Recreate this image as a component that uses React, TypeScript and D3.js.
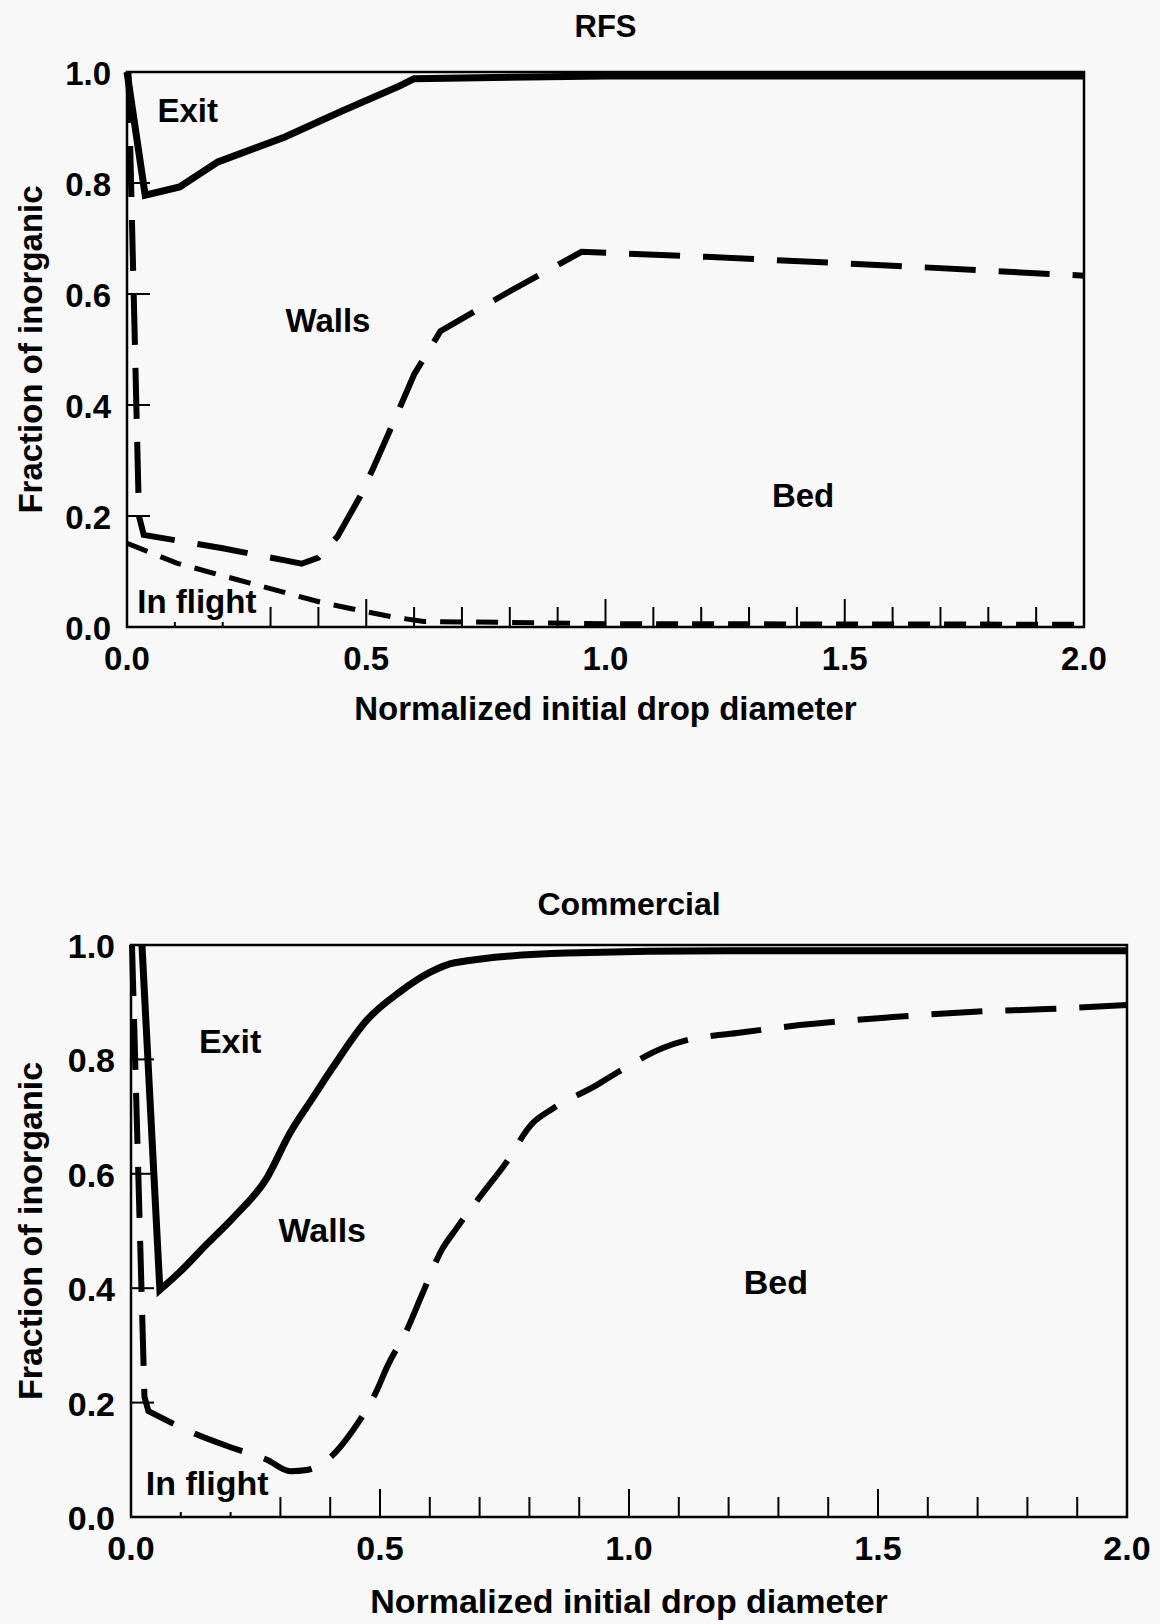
import React from 'react';
import * as d3 from 'd3';

// ---- data ----
const xTickLabels = ['0.0', '0.5', '1.0', '1.5', '2.0'];
const xTickValues = [0, 0.5, 1.0, 1.5, 2.0];
const yTickLabels = ['0.0', '0.2', '0.4', '0.6', '0.8', '1.0'];
const yTickValues = [0, 0.2, 0.4, 0.6, 0.8, 1.0];
const minorXTicks = [0.1, 0.2, 0.3, 0.4, 0.6, 0.7, 0.8, 0.9, 1.1, 1.2, 1.3, 1.4, 1.6, 1.7, 1.8, 1.9];
const majorXTicks = [0.5, 1.0, 1.5];
const innerYTicks = [0.2, 0.4, 0.6, 0.8];

const regionNames = ['Exit', 'Walls', 'Bed', 'In flight'];

// RFS: exit / walls boundary (solid)
const rfsExit: [number, number][] = [
  [0, 1.0], [0.038, 0.778], [0.11, 0.793], [0.19, 0.838], [0.33, 0.883],
  [0.45, 0.93], [0.57, 0.975], [0.6, 0.988], [1.0, 0.993], [2.0, 0.993],
];
// RFS: walls / bed boundary (long dash)
const rfsWalls: [number, number][] = [
  [0.003, 1.0], [0.025, 0.2], [0.035, 0.166], [0.2, 0.142], [0.33, 0.12],
  [0.365, 0.114], [0.4, 0.125], [0.44, 0.163], [0.487, 0.235], [0.514, 0.285],
  [0.556, 0.367], [0.6, 0.455], [0.655, 0.533], [0.8, 0.605], [0.95, 0.676],
  [1.21, 0.667], [1.6, 0.651], [2.0, 0.633],
];
// RFS: bed / in flight boundary (short dash)
const rfsFlight: [number, number][] = [
  [0, 0.151], [0.104, 0.115], [0.257, 0.079], [0.334, 0.061], [0.403, 0.045],
  [0.48, 0.031], [0.556, 0.018], [0.62, 0.01], [1.0, 0.006], [2.0, 0.005],
];

// Commercial: exit / walls boundary (solid)
const comExit: [number, number][] = [
  [0.022, 1.0], [0.058, 0.397], [0.1, 0.43], [0.15, 0.475], [0.205, 0.523],
  [0.273, 0.593], [0.319, 0.671], [0.366, 0.734], [0.406, 0.787], [0.474, 0.869],
  [0.54, 0.918], [0.6, 0.952], [0.65, 0.969], [0.875, 0.986], [1.2, 0.99], [2.0, 0.99],
];
// Commercial: walls / bed boundary (long dash)
const comWalls: [number, number][] = [
  [0.002, 1.0], [0.027, 0.21], [0.035, 0.185], [0.125, 0.147], [0.2, 0.122],
  [0.273, 0.1], [0.32, 0.08], [0.353, 0.082], [0.4, 0.104], [0.446, 0.152],
  [0.494, 0.222], [0.514, 0.262], [0.554, 0.327], [0.584, 0.388], [0.624, 0.467],
  [0.654, 0.505], [0.714, 0.575], [0.747, 0.612], [0.807, 0.689], [0.845, 0.713],
  [0.935, 0.755], [0.978, 0.778], [1.068, 0.82], [1.118, 0.834], [1.217, 0.846],
  [1.343, 0.86], [1.53, 0.874], [1.685, 0.883], [1.84, 0.888], [2.0, 0.895],
];

const rfsLabelPos: [number, number][] = [[0.127, 0.91], [0.42, 0.532], [1.413, 0.216], [0.146, 0.025]];
const comLabelPos: [number, number][] = [[0.199, 0.811], [0.384, 0.481], [1.295, 0.39], [0.153, 0.038]];

const FONT = '"Liberation Sans", Arial, Helvetica, sans-serif';
const BG = '#f8f8f8';

type Pt = [number, number];

interface PanelProps {
  title: string;
  left: number; right: number; top: number; bottom: number;
  fontSize: number;
  titleY: number;
  xTitleY: number;
  exit: Pt[];
  walls: Pt[];
  flight?: Pt[];
  labelPos: Pt[];
  // number of leading points drawn straight before the smoothed part (0 = all straight)
  exitSharp?: number;
  wallsSharp?: number;
}

const Panel: React.FC<PanelProps> = (p) => {
  const x = d3.scaleLinear().domain([0, 2]).range([p.left, p.right]);
  const y = d3.scaleLinear().domain([0, 1]).range([p.bottom, p.top]);
  const straight = d3.line<Pt>().x(d => x(d[0])).y(d => y(d[1]));
  const smooth = d3.line<Pt>().x(d => x(d[0])).y(d => y(d[1])).curve(d3.curveMonotoneX);

  // straight head + smooth tail, joined into one path string
  const pathFor = (pts: Pt[], sharp?: number) => {
    if (!sharp) return straight(pts) || '';
    const head = straight(pts.slice(0, sharp + 1)) || '';
    const tail = (smooth(pts.slice(sharp)) || '').replace(/^M[^CLHVZ]*/, '');
    return head + tail;
  };

  const fs = p.fontSize;
  const cx = (p.left + p.right) / 2;
  const cy = (p.top + p.bottom) / 2;

  // "In flight" label sits on a background box that hides part of the ticks
  const fl = p.labelPos[3];
  const flX = x(fl[0]);
  const flY = y(fl[1]);

  return (
    <g fontFamily={FONT} fontWeight="bold" fill="#000">
      {/* frame */}
      <rect x={p.left} y={p.top} width={p.right - p.left} height={p.bottom - p.top}
        fill="none" stroke="#000" strokeWidth={2.5} />

      {/* x ticks (inside) */}
      {minorXTicks.map(v => (
        <line key={'mx' + v} x1={x(v)} x2={x(v)} y1={p.bottom} y2={p.bottom - 20} stroke="#000" strokeWidth={2} />
      ))}
      {majorXTicks.map(v => (
        <line key={'Mx' + v} x1={x(v)} x2={x(v)} y1={p.bottom} y2={p.bottom - 28} stroke="#000" strokeWidth={2} />
      ))}
      {/* y ticks (inside) */}
      {innerYTicks.map(v => (
        <line key={'y' + v} x1={p.left} x2={p.left + 23} y1={y(v)} y2={y(v)} stroke="#000" strokeWidth={2} />
      ))}

      {/* boundaries */}
      {p.flight && (
        <path d={pathFor(p.flight)} fill="none" stroke="#000" strokeWidth={5}
          strokeDasharray="22 14" />
      )}
      <path d={pathFor(p.walls, p.wallsSharp)} fill="none" stroke="#000" strokeWidth={6}
        strokeDasharray="51 23" />

      {/* mask behind "In flight" */}
      <rect x={flX - 66} y={flY - 27} width={132} height={y(0) - 5 - (flY - 27)} fill={BG} />

      <path d={pathFor(p.exit, p.exitSharp)} fill="none" stroke="#000" strokeWidth={7} strokeLinejoin="miter" />

      {/* region labels */}
      {regionNames.map((name, i) => (
        <text key={name} x={x(p.labelPos[i][0])} y={y(p.labelPos[i][1])} fontSize={fs} textAnchor="middle">
          {name}
        </text>
      ))}

      {/* tick labels */}
      {xTickValues.map((v, i) => (
        <text key={'xl' + v} x={x(v)} y={p.bottom + 43} fontSize={fs} textAnchor="middle">
          {xTickLabels[i]}
        </text>
      ))}
      {yTickValues.map((v, i) => (
        <text key={'yl' + v} x={p.left - 16} y={y(v) + 13} fontSize={fs} textAnchor="end">
          {yTickLabels[i]}
        </text>
      ))}

      {/* titles */}
      <text x={cx} y={p.titleY} fontSize={fs - 2} textAnchor="middle">{p.title}</text>
      <text x={cx} y={p.xTitleY} fontSize={fs} textAnchor="middle">Normalized initial drop diameter</text>
      <text transform={`translate(42,${cy}) rotate(-90)`} fontSize={fs} textAnchor="middle">
        Fraction of inorganic
      </text>
    </g>
  );
};

const App: React.FC = () => {
  return (
    <div style={{ position: 'absolute', left: 0, top: 0 }}>
      <svg width={1160} height={1624} style={{ display: 'block', background: BG }}>
        <rect width={1160} height={1624} fill={BG} />
        <Panel
          title="RFS"
          left={127} right={1084} top={72} bottom={627}
          fontSize={33}
          titleY={37}
          xTitleY={720}
          exit={rfsExit}
          walls={rfsWalls}
          flight={rfsFlight}
          labelPos={rfsLabelPos}
        />
        <Panel
          title="Commercial"
          left={131} right={1127} top={945} bottom={1517}
          fontSize={34}
          titleY={915}
          xTitleY={1613}
          exit={comExit}
          walls={comWalls}
          labelPos={comLabelPos}
          exitSharp={1}
          wallsSharp={2}
        />
      </svg>
    </div>
  );
};

export default App;
